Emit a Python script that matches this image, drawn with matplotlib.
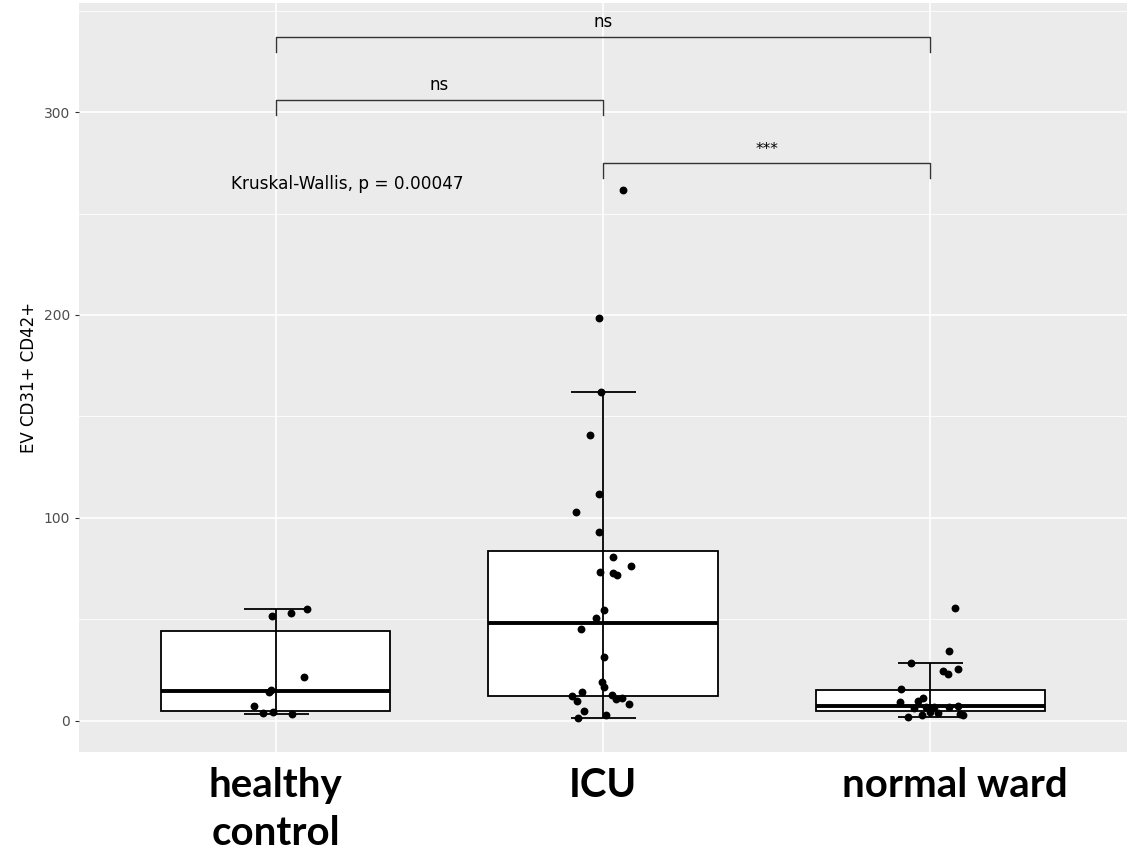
import matplotlib.pyplot as plt
import matplotlib.transforms as mtransforms

groups = ['healthy\ncontrol', 'ICU', 'normal ward']
label_shift = [0, 0, 0.075]

# jittered points: offset from group centre, value
healthy_dx = [0.097, 0.047, -0.012, 0.088, -0.015, -0.021, -0.065, -0.037, -0.008, 0.051]
healthy_y = [55.2, 53.3, 51.5, 21.7, 15.4, 14.2, 7.5, 3.9, 4.2, 3.6]

icu_dx = [0.060, -0.011, -0.005, -0.040, -0.012, -0.082, -0.012, 0.031, 0.085, -0.009,
          0.030, 0.042, 0.004, -0.020, -0.067, 0.003, -0.002, 0.003, -0.065, -0.094,
          -0.078, 0.027, 0.039, 0.057, 0.078, -0.058, 0.008, -0.076]
icu_y = [261.6, 198.4, 162.2, 140.7, 111.7, 103.0, 93.3, 80.8, 76.5, 73.4,
         72.9, 72.1, 54.7, 50.6, 45.5, 31.5, 19.4, 16.6, 14.4, 12.5,
         10.0, 12.8, 11.0, 11.5, 8.5, 5.1, 2.8, 1.3]

ward_dx = [0.074, 0.057, -0.060, 0.038, 0.052, 0.085, -0.089, -0.024, -0.039, -0.094,
           -0.049, -0.013, 0.012, 0.058, 0.083, -0.003, 0.022, -0.027, -0.068, 0.089, 0.099]
ward_y = [55.8, 34.3, 28.4, 24.8, 23.3, 25.4, 16.0, 11.5, 9.9, 9.2,
          6.6, 7.1, 7.1, 6.8, 7.4, 4.6, 3.8, 3.1, 2.1, 3.4, 3.0]

# box statistics
whis_lo = [3.6, 1.6, 2.1]
q1 = [5.1, 12.2, 5.1]
med = [14.8, 48.3, 7.6]
q3 = [44.3, 83.9, 15.3]
whis_hi = [55.2, 162.2, 28.4]

# pairwise comparisons: group a, group b, bracket height, label
comparisons = [(1, 3, 337, 'ns'), (1, 2, 306, 'ns'), (2, 3, 275, '***')]
tip = 7.5
kw_label = 'Kruskal-Wallis, p = 0.00047'

fig = plt.figure(figsize=(11.34, 8.58), dpi=100)
ax = fig.add_axes([0.0697, 0.1235, 0.9241, 0.873])
ax.set_facecolor('#EBEBEB')
for s in ax.spines.values():
    s.set_visible(False)

pos = [1, 2, 3]
stats = []
for i in range(3):
    stats.append(dict(med=med[i], q1=q1[i], q3=q3[i], whislo=whis_lo[i], whishi=whis_hi[i], fliers=[]))
ax.bxp(stats, positions=pos, widths=0.7, patch_artist=True, showcaps=False, showfliers=False,
       boxprops=dict(facecolor='white', edgecolor='black', linewidth=1.3),
       medianprops=dict(color='black', linewidth=2.8),
       whiskerprops=dict(linewidth=0), zorder=2)

yerr = [[med[i] - whis_lo[i] for i in range(3)], [whis_hi[i] - med[i] for i in range(3)]]
ax.errorbar(pos, med, yerr=yerr, fmt='none', ecolor='black', elinewidth=1.3,
            capsize=23.4, capthick=1.3, zorder=3)

for p, dx, ys in [(1, healthy_dx, healthy_y), (2, icu_dx, icu_y), (3, ward_dx, ward_y)]:
    ax.scatter([p + d for d in dx], ys, s=32, color='black', zorder=5, linewidths=0)

for a, b, h, lab in comparisons:
    ax.plot([a, a, b, b], [h - tip, h, h, h - tip], color='#333333', lw=1.0, zorder=4)
    ax.text((a + b) / 2, h + 3, lab, ha='center', va='bottom', fontsize=12 if lab == 'ns' else 11,
            color='black')

ax.text(0.863, 264.5, kw_label, ha='left', va='center', fontsize=12.2, color='black')

ax.set_xlim(0.4, 3.6)
ax.set_ylim(-15.3, 353.7)
ax.set_yticks([0, 100, 200, 300])
ax.set_yticks([50, 150, 250, 350], minor=True)
ax.set_xticks(pos)
ax.set_xticklabels([])
ax.tick_params(axis='x', length=0)
ax.tick_params(axis='y', which='major', length=3, color='#333333', labelcolor='#4D4D4D', labelsize=10)
ax.tick_params(axis='y', which='minor', length=0)
ax.grid(True, which='major', color='white', lw=1.2)
ax.grid(True, which='minor', axis='y', color='white', lw=0.6)
ax.set_axisbelow(True)
ax.set_ylabel('EV CD31+ CD42+', fontsize=12, labelpad=4)

trans = mtransforms.blended_transform_factory(ax.transData, fig.transFigure)
for i, g in enumerate(groups):
    ax.text(pos[i] + label_shift[i], 0.106, g, transform=trans, ha='center', va='top',
            fontsize=29, fontweight='bold', family=['Lato', 'DejaVu Sans'], linespacing=1.38)

fig.savefig('out.png', dpi=100)
